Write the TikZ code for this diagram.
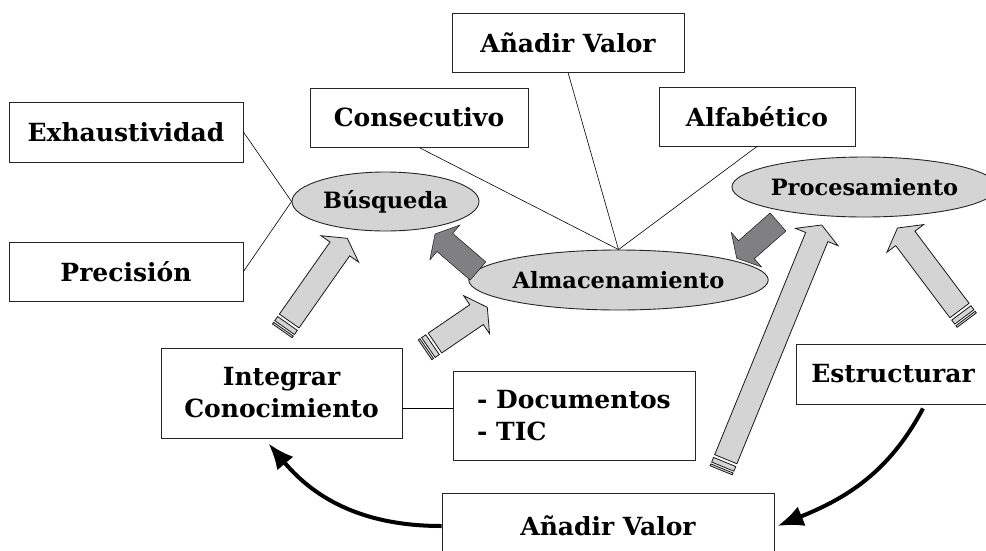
\documentclass[tikz,border=0pt]{standalone}
\usepackage{fontspec}
\setmainfont{DejaVu Serif}
\usepackage{tikz}
\usetikzlibrary{shapes.geometric,arrows.meta,calc,positioning}
\definecolor{ellgray}{RGB}{212,212,212}
\definecolor{darkarrow}{RGB}{128,128,130}

% Blockpfeil: Schaft, Spitze
\newcommand{\blockarrow}[3][arrowbody]{%
  \filldraw[#1] let \p1=(#2), \p2=(#3), \n1={atan2(\y2-\y1,\x2-\x1)} in
    ($(\p1)+(\n1+90:12pt)$) -- ($(\p2)+(\n1:-13pt)+(\n1+90:12pt)$)
    -- ($(\p2)+(\n1:-13pt)+(\n1+90:23pt)$) -- (\p2)
    -- ($(\p2)+(\n1:-13pt)+(\n1-90:23pt)$) -- ($(\p2)+(\n1:-13pt)+(\n1-90:12pt)$)
    -- ($(\p1)+(\n1-90:12pt)$) -- cycle;}
% Streifen am Ende
\newcommand{\tailstripes}[2]{%
  \filldraw[arrowbody] let \p1=(#1), \p2=(#2), \n1={atan2(\y2-\y1,\x2-\x1)} in
    ($(\p1)+(\n1:-3pt)+(\n1+90:12pt)$) -- ($(\p1)+(\n1:-8pt)+(\n1+90:12pt)$)
    -- ($(\p1)+(\n1:-8pt)+(\n1-90:12pt)$) -- ($(\p1)+(\n1:-3pt)+(\n1-90:12pt)$) -- cycle
    ($(\p1)+(\n1:-10pt)+(\n1+90:12pt)$) -- ($(\p1)+(\n1:-12pt)+(\n1+90:12pt)$)
    -- ($(\p1)+(\n1:-12pt)+(\n1-90:12pt)$) -- ($(\p1)+(\n1:-10pt)+(\n1-90:12pt)$) -- cycle;}

\begin{document}
\begin{tikzpicture}[x=1pt,y=-1pt]
	\tikzset{
		box/.style={draw=black!85, line width=0.9pt, fill=white, inner sep=0pt, font=\bfseries\fontsize{25}{32}\selectfont},
		oval/.style={ellipse, draw=black!85, line width=0.9pt, fill=ellgray, inner sep=0pt, font=\bfseries\fontsize{22.5}{28}\selectfont},
		arrowbody/.style={fill=ellgray, draw=black!90, line width=0.8pt},
		darkbody/.style={fill=darkarrow},
		bigarrow/.style={-{Latex[length=26pt,width=21pt]}, line width=4pt},
		link/.style={line width=0.6pt}
	}
	\clip (0,0) rectangle (986,550);
	
	% Kaesten
	\node[box, minimum width=234, minimum height=60] (exh) at (126,132) {Exhaustividad};
	\node[box, minimum width=234, minimum height=59] (prec) at (126,271.5) {Precisión};
	\node[box, minimum width=218, minimum height=59] (consec) at (419,117.5) {Consecutivo};
	\node[box, minimum width=232, minimum height=59] (topval) at (568,42.5) {Añadir Valor};
	\node[box, minimum width=196, minimum height=59] (alfab) at (757,116.5) {Alfabético};
	\node[box, minimum width=241, minimum height=90, align=center] (integ) at (281.5,393) {Integrar\\Conocimiento};
	\node[box, minimum width=242, minimum height=89, align=left] (docs) at (574,415.5) {- Documentos\\- TIC};
	\node[box, minimum width=194, minimum height=60] (estruct) at (893,374) {Estructurar};
	\node[box, minimum width=332, minimum height=66] (botval) at (608,526) {Añadir Valor};
	
	% Ellipsen
	\node[oval, minimum width=187, minimum height=59] (busq) at (385.5,201.5) {Búsqueda};
	\node[oval, minimum width=271, minimum height=60] (almac) at (618.5,280) {Almacenamiento};
	\node[oval, minimum width=243, minimum height=60] (proces) at (864.5,187) {Procesamiento};
	
	% Linien
	\draw[link] (exh.east) -- (busq.west);
	\draw[link] (prec.east) -- (busq.west);
	\foreach \b in {consec,topval,alfab}
		\draw[link] (\b.south) -- (almac.north);
	\draw[link] ([yshift=-15pt]integ.east) coordinate (docslink) -- (docslink -| docs.west);
	
	% Blockpfeile
	\coordinate (a1s) at (289.2,321);   \coordinate (a1e) at (347.3,238.3);
	\coordinate (a2s) at (435,343);     \coordinate (a2e) at (487.3,307.3);
	\coordinate (a3s) at (959.5,310.5); \coordinate (a3e) at (897.5,228);
	\coordinate (a4s) at (725.8,459.2); \coordinate (a4e) at (821.7,225);
	\foreach \a in {a1,a2,a3,a4}{
		\blockarrow{\a s}{\a e}
		\tailstripes{\a s}{\a e}
	}
	\coordinate (d1s) at (478,271);     \coordinate (d1e) at (435,234);
	\coordinate (d2s) at (778,222);     \coordinate (d2e) at (736.7,258.3);
	\blockarrow[darkbody]{d1s}{d1e}
	\blockarrow[darkbody]{d2s}{d2e}
	
	% gebogene Pfeile
	\draw[bigarrow] (botval.west) to[out=180,in=-50] ([xshift=-13pt,yshift=-5pt]integ.south);
	\draw[bigarrow] ([xshift=30pt,yshift=-4pt]estruct.south) to[out=-118,in=22] ([xshift=3pt]botval.east);
\end{tikzpicture}
\end{document}
